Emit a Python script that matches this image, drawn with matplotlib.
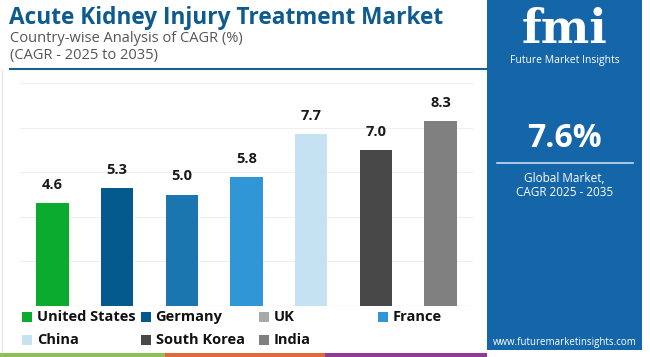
import matplotlib.pyplot as plt
from matplotlib.patches import Rectangle
from matplotlib.lines import Line2D

countries = ["United States", "Germany", "UK", "France", "China", "South Korea", "India"]
cagr = [4.6, 5.3, 5.0, 5.8, 7.7, 7.0, 8.3]
bar_colors = ["#0aab2e", "#045a8d", "#1b75ae", "#3196d6", "#c5e2f3", "#484848", "#808080"]
legend_colors = ["#0aab2e", "#045a8d", "#a9a9a9", "#3196d6", "#c5e2f3", "#484848", "#808080"]
global_cagr = "7.6%"

plt.rcParams['font.family'] = ['Open Sans', 'DejaVu Sans']

W, H = 650, 357
fig = plt.figure(figsize=(6.5, 3.57), dpi=100)

def fx(px):
    return px / W

def fy(py):
    return 1 - py / H

# header
fig.text(fx(9), fy(18), "Acute Kidney Injury Treatment Market", fontsize=16.3,
         fontweight="bold", color="#0d5b8f", va="center", ha="left")
fig.text(fx(10), fy(38), "Country-wise Analysis of CAGR (%)", fontsize=10.5,
         color="#555555", va="center", ha="left")
fig.text(fx(10), fy(56), "(CAGR - 2025 to 2035)", fontsize=10.5,
         color="#555555", va="center", ha="left")
fig.add_artist(Line2D([fx(10), fx(487)], [fy(68.5), fy(68.5)], color="#1b5f8c", lw=1.5))

# left border
fig.add_artist(Line2D([fx(2), fx(2)], [fy(70), fy(352)], color="#e6e6e6", lw=1))

# chart
ax = fig.add_axes([fx(20), fy(306), fx(473) - fx(20), (306 - 83) / H])
x = range(len(countries))
ax.bar(x, cagr, width=0.5, color=bar_colors, zorder=3)
for xi, v in zip(x, cagr):
    ax.text(xi, v + 0.5, f"{v:.1f}", ha="center", va="bottom", fontsize=10.5,
            fontweight="bold", color="#1a1a1a")
ax.set_xlim(-0.5, len(countries) - 0.5)
ax.set_ylim(0, 10)
ax.set_yticks([0, 2, 4, 6, 8, 10])
ax.yaxis.grid(True, color="#eeeeee", lw=0.8, zorder=0)
ax.set_xticks([])
ax.tick_params(left=False, labelleft=False)
for s in ax.spines.values():
    s.set_visible(False)
ax.axhline(0, color="#e6e6e6", lw=1, zorder=2)

# legend, 4 per row
for i, (name, c) in enumerate(zip(countries, legend_colors)):
    col, row = i % 4, i // 4
    lx = 22 + 118.5 * col
    ly = 317 + 23 * row
    fig.add_artist(Rectangle((fx(lx), fy(ly + 5)), 10 / W, 10 / H, color=c, lw=0))
    fig.text(fx(lx + 15), fy(ly), name, fontsize=10.5, fontweight="bold",
             color="#111111", va="center", ha="left")

# bottom colour strip
for x0, x1, c in [(0, 165, "#8fbf57"), (165, 325, "#e0693a"), (325, 487, "#8e3a96")]:
    fig.add_artist(Rectangle((fx(x0), 0), fx(x1) - fx(x0), 4 / H, color=c, lw=0))

# right panel
fig.add_artist(Rectangle((fx(487), fy(350)), fx(642) - fx(487), 350 / H,
                         color="#1566a8", lw=0))
cx = fx(564.5)
fig.text(cx, fy(30), "fmi", fontsize=33, fontweight="bold", color="white",
         ha="center", va="center", family=["DejaVu Serif"])
fig.text(cx, fy(61), "Future Market Insights", fontsize=7.5, color="white",
         ha="center", va="center")
fig.text(cx, fy(139), global_cagr, fontsize=23, fontweight="bold", color="white",
         ha="center", va="center")
fig.add_artist(Line2D([fx(497), fx(633)], [fy(163), fy(163)], color="#c9dcef", lw=1.2))
fig.text(cx, fy(179), "Global Market,", fontsize=8.5, color="white",
         ha="center", va="center")
fig.text(cx, fy(193), "CAGR 2025 - 2035", fontsize=8.5, color="white",
         ha="center", va="center")
fig.text(cx, fy(342), "www.futuremarketinsights.com", fontsize=7, color="white",
         ha="center", va="center")

fig.savefig("out.png", dpi=100)
